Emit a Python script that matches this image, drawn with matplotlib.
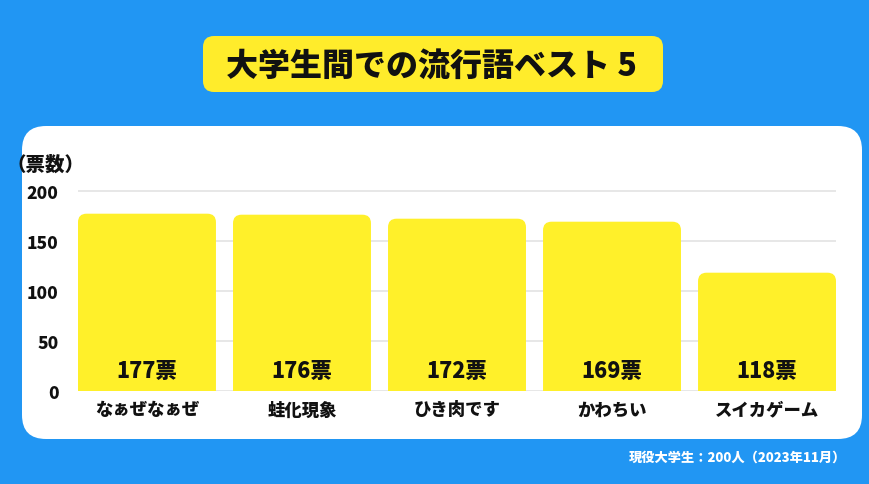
import matplotlib
matplotlib.use("Agg")
import matplotlib.pyplot as plt
from matplotlib.patches import FancyBboxPatch

plt.rcParams['font.family'] = ['Noto Sans CJK JP', 'DejaVu Sans']

categories = ["なぁぜなぁぜ", "蛙化現象", "ひき肉です", "かわちい", "スイカゲーム"]
votes = [177, 176, 172, 169, 118]
value_labels = ["177票", "176票", "172票", "169票", "118票"]
yticks = [0, 50, 100, 150, 200]
title = "大学生間での流行語ベスト 5"
ylabel = "（票数）"
footnote = "現役大学生：200人（2023年11月）"

W, H = 870, 485
BLUE = "#2196F3"
YELLOW = "#FFF02A"
TITLE_YELLOW = "#FFEC2B"
INK = "#111111"
WEIGHT = 900

fig = plt.figure(figsize=(W / 100, H / 100), dpi=100)
fig.patch.set_facecolor(BLUE)

# background layer in pixel coordinates
bg = fig.add_axes([0, 0, 1, 1], zorder=0)
bg.set_xlim(0, W)
bg.set_ylim(H, 0)
bg.axis("off")
bg.add_patch(FancyBboxPatch((22, 127), 840, 313,
                            boxstyle="round,pad=0,rounding_size=24",
                            facecolor="white", edgecolor="none"))
bg.add_patch(FancyBboxPatch((203, 37), 460, 56,
                            boxstyle="round,pad=0,rounding_size=11",
                            facecolor=TITLE_YELLOW, edgecolor="none"))
bg.text(431, 66, title, ha="center", va="center", fontsize=23,
        fontweight=WEIGHT, color=INK)
bg.text(46, 165, ylabel, ha="center", va="center", fontsize=14,
        fontweight=WEIGHT, color=INK)
bg.text(846, 458, footnote, ha="right", va="center", fontsize=9.5,
        fontweight=WEIGHT, color="white")

# chart axes
left, right = 78, 836
y0_px, y200_px = 391.7, 191.7
ax = fig.add_axes([left / W, (H - y0_px) / H, (right - left) / W,
                   (y0_px - y200_px + 1.5) / H], zorder=1)
ax.set_facecolor("none")
n = len(categories)
ax.set_xlim(-0.445, n - 1 + 0.445)
ax.set_ylim(0, 201.5)

x = list(range(n))
bw = 0.89
bars = ax.bar(x, votes, width=bw, color="none", edgecolor="none")
px_x = (right - left) / (n - 1 + 0.89)  # px per x-unit
px_y = (y0_px - y200_px) / 200.0          # px per y-unit
aspect = px_x / px_y
for b in bars:
    bx, bwid, bh = b.get_x(), b.get_width(), b.get_height()
    ax.add_patch(FancyBboxPatch((bx, -20), bwid, bh + 20,
                                boxstyle="round,pad=0,rounding_size=0.055",
                                mutation_aspect=aspect,
                                facecolor=YELLOW, edgecolor="none", zorder=2))

for xi, lab in zip(x, value_labels):
    ax.text(xi, 20, lab, ha="center", va="center", fontsize=15.5,
            fontweight=WEIGHT, color=INK, zorder=3)

ax.set_yticks(yticks)
ax.set_yticklabels([str(t) for t in yticks], fontsize=12.5, fontweight=WEIGHT, color=INK)
ax.set_xticks(x)
ax.set_xticklabels(categories, fontsize=12.5, fontweight=WEIGHT, color=INK)
ax.tick_params(axis="both", length=0)
ax.tick_params(axis="y", pad=14)
ax.tick_params(axis="x", pad=7)
ax.yaxis.grid(True, color="#e3e3e3", linewidth=1.2, zorder=0)
ax.set_axisbelow(True)
for s in ax.spines.values():
    s.set_visible(False)

fig.savefig("out.png", dpi=100, facecolor=BLUE)
